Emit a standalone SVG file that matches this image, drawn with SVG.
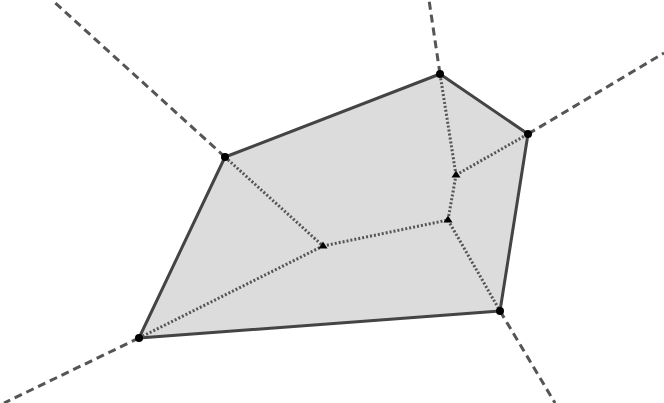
<svg xmlns="http://www.w3.org/2000/svg" width="664" height="403" viewBox="0 0 664 403">
<defs>
<style>
.dash{stroke:#555;stroke-width:3;stroke-dasharray:8 5;fill:none}
.dot{stroke:#555;stroke-width:3;stroke-dasharray:2 2;fill:none}
.poly{fill:#dcdcdc;stroke:#444;stroke-width:3;stroke-linejoin:round}
.v{fill:#000}
</style>
<path id="tri" d="M0,-4.5 L4.5,2.5 L-4.5,2.5 Z" fill="#000"/>
</defs>
<rect width="664" height="403" fill="#fff"/>
<g id="region">
<polygon class="poly" points="225,157 440,74 528,134 500,311 139,338"/>
</g>
<g id="connectors">
<line class="dash" x1="225" y1="157" x2="52" y2="0"/>
<line class="dash" x1="440" y1="74" x2="429" y2="0"/>
<line class="dash" x1="528" y1="134" x2="664" y2="53"/>
<line class="dash" x1="500" y1="311" x2="555" y2="403"/>
<line class="dash" x1="139" y1="338" x2="4" y2="403"/>
<line class="dot" x1="225" y1="157" x2="323" y2="246"/>
<line class="dot" x1="139" y1="338" x2="323" y2="246"/>
<line class="dot" x1="323" y1="246" x2="448" y2="220"/>
<line class="dot" x1="448" y1="220" x2="500" y2="311"/>
<line class="dot" x1="448" y1="220" x2="456" y2="175"/>
<line class="dot" x1="456" y1="175" x2="440" y2="74"/>
<line class="dot" x1="456" y1="175" x2="528" y2="134"/>
</g>
<g id="vA"><circle class="v" cx="225" cy="157" r="4"/></g>
<g id="vB"><circle class="v" cx="440" cy="74" r="4"/></g>
<g id="vC"><circle class="v" cx="528" cy="134" r="4"/></g>
<g id="vD"><circle class="v" cx="500" cy="311" r="4"/></g>
<g id="vE"><circle class="v" cx="139" cy="338" r="4"/></g>
<g id="t1"><use href="#tri" x="323" y="246"/></g>
<g id="t2"><use href="#tri" x="448" y="220"/></g>
<g id="t3"><use href="#tri" x="456" y="175"/></g>
</svg>
